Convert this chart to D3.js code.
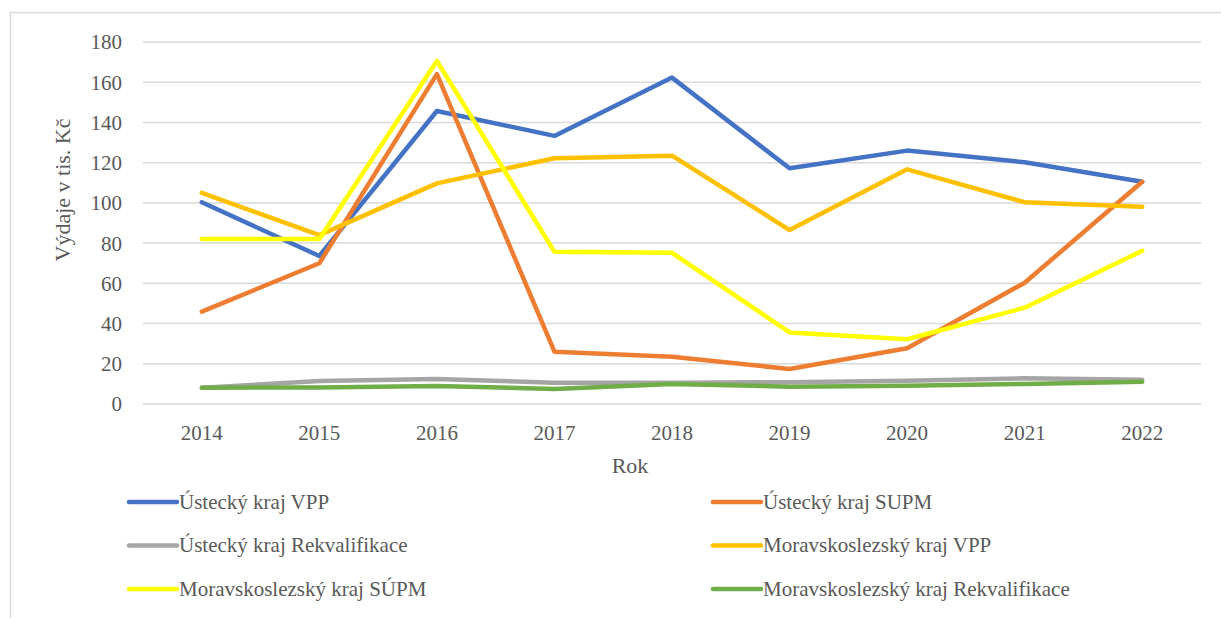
<!DOCTYPE html>
<html>
<head>
<meta charset="utf-8">
<script src="https://cdn.jsdelivr.net/npm/d3@7"></script>
<style>
  body { margin: 0; background: #fff; }
</style>
</head>
<body>
<svg id="chart" width="1221" height="618"></svg>
<script>
// ----- data -----
var years = ['2014', '2015', '2016', '2017', '2018', '2019', '2020', '2021', '2022'];
var yTicks = [0, 20, 40, 60, 80, 100, 120, 140, 160, 180];

var usteckyVPP = [100.3, 73.6, 145.7, 133.3, 162.3, 117.2, 126, 120.2, 110.5];
var usteckySUPM = [45.9, 70, 164, 26, 23.5, 17.4, 27.7, 60.3, 110.5];
var usteckyRekv = [8.1, 11.4, 12.4, 10.6, 10.6, 10.8, 11.6, 12.8, 12];
var moravVPP = [105, 84, 109.7, 122.2, 123.5, 86.5, 116.7, 100.3, 98.1];
var moravSUPM = [82, 82, 170.6, 75.7, 75.2, 35.6, 32.2, 47.9, 76.2];
var moravRekv = [8.1, 8.2, 9, 7.5, 10, 8.6, 9.1, 10, 11.1];

var seriesNames = ['Ústecký kraj VPP', 'Ústecký kraj SUPM', 'Ústecký kraj Rekvalifikace',
                   'Moravskoslezský kraj VPP', 'Moravskoslezský kraj SÚPM', 'Moravskoslezský kraj Rekvalifikace'];
var seriesColors = ['#4472c4', '#ed7d31', '#a5a5a5', '#ffc000', '#ffff00', '#70ad47'];
var seriesValues = [usteckyVPP, usteckySUPM, usteckyRekv, moravVPP, moravSUPM, moravRekv];

var series = seriesNames.map(function(name, i) {
  return { name: name, color: seriesColors[i], values: seriesValues[i] };
});

var FONT = "'Liberation Serif', 'Times New Roman', Tinos, 'DejaVu Serif', serif";
var TEXT = '#595959';

// ----- layout -----
var svg = d3.select('#chart')
            .attr('font-family', FONT);
var plot = { left: 143, right: 1201, top: 42, bottom: 404 };

// outer frame (only top and left edges are visible)
svg.append('path')
   .attr('d', 'M10.5,618 V12.5 H1221')
   .attr('fill', 'none')
   .attr('stroke', '#d9d9d9')
   .attr('stroke-width', 1.5);

var x = d3.scaleBand().domain(years).range([plot.left, plot.right]);
var y = d3.scaleLinear().domain([0, 180]).range([plot.bottom, plot.top]);

// gridlines
svg.append('g')
   .selectAll('line.grid')
   .data(yTicks)
   .enter().append('line')
   .attr('class', 'grid')
   .attr('x1', plot.left)
   .attr('x2', plot.right)
   .attr('y1', function(d) { return y(d); })
   .attr('y2', function(d) { return y(d); })
   .attr('stroke', '#d9d9d9')
   .attr('stroke-width', 1.5);

// y axis labels
var yAxis = svg.append('g')
   .attr('transform', 'translate(' + (plot.left - 21) + ',0)')
   .call(d3.axisLeft(y).tickValues(yTicks).tickSize(0).tickPadding(0));
yAxis.attr('font-family', FONT).attr('font-size', 21);
yAxis.select('.domain').remove();
yAxis.selectAll('text')
     .attr('dy', '0.33em')
     .attr('fill', TEXT);

// x axis labels
var xAxis = svg.append('g')
   .attr('transform', 'translate(0,' + plot.bottom + ')')
   .call(d3.axisBottom(x).tickSize(0).tickPadding(21));
xAxis.attr('font-family', FONT).attr('font-size', 21);
xAxis.select('.domain').remove();
xAxis.selectAll('text')
     .attr('fill', TEXT);

// axis titles
svg.append('text')
   .attr('x', (plot.left + plot.right) / 2 - 42)
   .attr('y', 473)
   .attr('text-anchor', 'middle')
   .attr('font-size', 22)
   .attr('fill', TEXT)
   .text('Rok');

svg.append('text')
   .attr('transform', 'translate(70,' + ((plot.top + plot.bottom) / 2 - 33) + ') rotate(-90)')
   .attr('text-anchor', 'middle')
   .attr('font-size', 22)
   .attr('fill', TEXT)
   .text('Výdaje v tis. Kč');

// lines
var line = d3.line()
   .x(function(d, i) { return x(years[i]) + x.bandwidth() / 2; })
   .y(function(d) { return y(d); });

svg.append('g')
   .selectAll('path.series')
   .data(series)
   .enter().append('path')
   .attr('class', 'series')
   .attr('d', function(d) { return line(d.values); })
   .attr('fill', 'none')
   .attr('stroke', function(d) { return d.color; })
   .attr('stroke-width', 4.5)
   .attr('stroke-linejoin', 'round')
   .attr('stroke-linecap', 'round');

// legend: two columns, three rows
var legend = svg.append('g')
   .selectAll('g.legend')
   .data(series)
   .enter().append('g')
   .attr('class', 'legend')
   .attr('transform', function(d, i) {
     var col = i % 2, row = Math.floor(i / 2);
     return 'translate(' + (col ? 713 : 129) + ',' + (502 + row * 43.5) + ')';
   });

legend.append('line')
      .attr('x1', 0)
      .attr('x2', 48)
      .attr('stroke', function(d) { return d.color; })
      .attr('stroke-width', 4.5)
      .attr('stroke-linecap', 'round');

legend.append('text')
      .attr('x', 50)
      .attr('dy', '0.33em')
      .attr('font-size', 21)
      .attr('fill', TEXT)
      .text(function(d) { return d.name; });
</script>
</body>
</html>
